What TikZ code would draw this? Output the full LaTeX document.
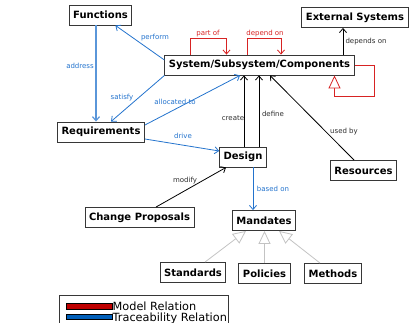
\documentclass[tikz,border=0pt]{standalone}
\usepackage{fontspec}
\setmainfont{DejaVu Sans}
\usetikzlibrary{arrows.meta,calc}

\definecolor{tracblue}{RGB}{35,115,205}
\definecolor{modelred}{RGB}{215,35,35}
\definecolor{boxgray}{RGB}{55,55,55}
\definecolor{textgray}{RGB}{45,45,45}
\definecolor{genlight}{RGB}{195,195,195}
\definecolor{legred}{RGB}{190,0,0}
\definecolor{legblue}{RGB}{0,95,185}

\begin{document}
\begin{tikzpicture}[x=1pt, y=-1pt,
  box/.style={draw=boxgray, line width=0.9pt, fill=white, inner xsep=4pt,
    minimum height=20pt, font=\bfseries\fontsize{10}{12}\selectfont},
  lbl/.style={font=\fontsize{7}{8}\selectfont, inner sep=0pt},
  vtip/.style={-{Straight Barb[length=4pt,width=7pt]}},
  trace/.style={draw=tracblue, line width=0.8pt, vtip},
  model/.style={draw=modelred, line width=0.8pt, vtip},
  assoc/.style={draw=black, line width=0.8pt, vtip},
  gen/.style={draw=genlight, line width=0.8pt,
    -{Triangle[open, fill=white, length=13pt, width=12pt]}},
  modelgen/.style={draw=modelred, line width=0.8pt,
    -{Triangle[open, fill=white, length=13pt, width=12pt]}},
  legtext/.style={anchor=west, inner sep=0pt, font=\fontsize{11.3}{12}\selectfont}]
  \useasboundingbox (0,0) rectangle (409,323);

  % boxes
  \node[box] (func) at (100.5,15) {Functions};
  \node[box] (ext) at (355,17.5) {External Systems};
  \node[box] (sys) at (259.5,65) {System/Subsystem/Components};
  \node[box] (req) at (101,132) {Requirements};
  \node[box] (design) at (243,157) {Design};
  \node[box] (res) at (363.5,170.5) {Resources};
  \node[box] (change) at (139.5,217.5) {Change Proposals};
  \node[box] (mand) at (264,220.5) {Mandates};
  \node[box] (std) at (193,272.5) {Standards};
  \node[box] (pol) at (264.5,273.5) {Policies};
  \node[box] (meth) at (333,273.5) {Methods};

  % traceability relations
  \draw[trace] (sys.177) -- (func.-35);
  \draw[trace, draw=tracblue!75, line width=1.2pt]
    ($(func.south)+(-4.5,0)$) -- ($(req.north)+(-5,0)$);
  \draw[trace] (sys.south west) -- ($(req.north)+(10,0)$);
  \draw[trace] ($(req.east)+(0,-7)$) -- ($(sys.south)+(-19.5,0)$);
  \draw[trace] ($(req.east)+(0,7)$) -- ($(design.west)+(0,-6)$);
  \draw[trace] ($(design.south)+(10,0)$) -- ($(mand.north)+(-11,0)$);

  % model relations
  \draw[model] ($(sys.north)+(-69,0)$) |- ++(36,-16) -- ($(sys.north)+(-33,0)$);
  \draw[model] ($(sys.north)+(-12,0)$) |- ++(33.5,-16) -- ($(sys.north)+(21.5,0)$);
  \draw[modelgen] (sys.east) -| ++(20,31) -| ($(sys.south)+(75,0)$);

  % other relations
  \draw[assoc] ($(design.north)+(1,0)$) -- ($(design.north |- sys.south)+(1,0)$);
  \draw[assoc] ($(design.north)+(16,0)$) -- ($(design.north |- sys.south)+(16,0)$);
  \draw[assoc] ($(res.north)+(-9.5,0)$) -- ($(sys.south)+(10.5,0)$);
  \draw[assoc] ($(sys.north)+(83.5,0)$) -- ($(ext.south)+(-12,0)$);
  \draw[assoc] ($(change.north)+(16.5,0)$) -- ($(design.south)+(-17,0)$);

  % generalisations
  \draw[gen] ($(std.north)+(12,0)$) -- ($(mand.south)+(-18,0)$);
  \draw[gen] (pol.north) -- (pol.north |- mand.south);
  \draw[gen] ($(meth.north)+(-13,0)$) -- ($(mand.south)+(15,0)$);

  % labels
  \node[lbl, tracblue] (lperform) at (155,38) {perform};
  \node[lbl, tracblue] (laddress) at (80,66) {address};
  \node[lbl, tracblue] (lsatisfy) at (122,98) {satisfy};
  \node[lbl, tracblue] (lalloc) at (175,102) {allocated to};
  \node[lbl, tracblue] (ldrive) at (183,136) {drive};
  \node[lbl, tracblue] (lbased) at (273,189) {based on};
  \node[lbl, modelred] (lpart) at (208,34) {part of};
  \node[lbl, modelred] (ldepend) at (265,34) {depend on};
  \node[lbl, textgray] (lcreate) at (233,118) {create};
  \node[lbl, textgray] (ldefine) at (273,114) {define};
  \node[lbl, textgray] (lused) at (344,132) {used by};
  \node[lbl, textgray] (ldepends) at (366,42) {depends on};
  \node[lbl, textgray] (lmodify) at (185,181) {modify};

  % legend
  \draw[boxgray, line width=0.8pt] (59,295) rectangle (228,340);
  \draw[black, fill=legred, line width=0.6pt] (66,303) rectangle (112,309);
  \draw[black, fill=legblue, line width=0.6pt] (66,314) rectangle (112,319.5);
  \node[legtext] (lmodel) at (112.5,306.5) {Model Relation};
  \node[legtext] (ltrace) at (112.5,318) {Traceability Relation};
\end{tikzpicture}
\end{document}
